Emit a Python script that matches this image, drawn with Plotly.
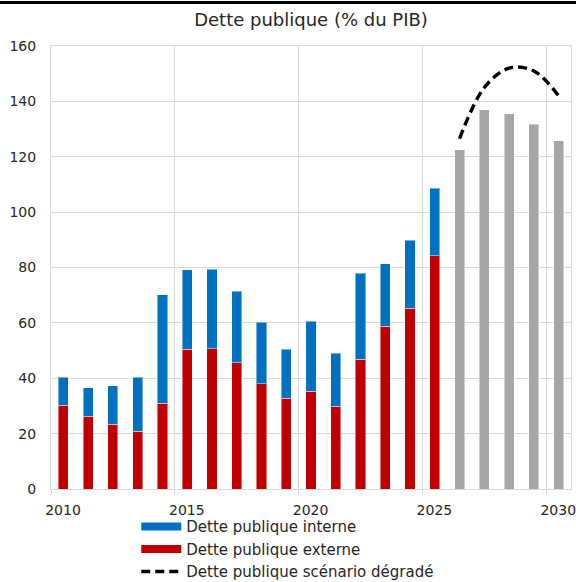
import plotly.graph_objects as go

years_hist = list(range(2010, 2026))
externe = [30.2, 26.2, 23.3, 20.9, 30.9, 50.4, 50.6, 45.6, 38.1, 32.8, 35.3, 29.9, 46.9, 58.7, 65.2, 84.3]
total_hist = [40.4, 36.5, 37.3, 40.3, 70.1, 79.1, 79.3, 71.4, 60.3, 50.4, 60.6, 49.0, 77.9, 81.3, 89.8, 108.6]
interne = [round(t - e, 1) for t, e in zip(total_hist, externe)]

years_proj = list(range(2026, 2031))
projection = [122.5, 137.0, 135.5, 131.8, 125.7]
scenario_degrade = [126.5, 145.0, 152.0, 151.0, 142.0]

tick_years = [2010, 2015, 2020, 2025, 2030]
grid_bounds = [y - 0.5 for y in tick_years]

FONT = "DejaVu Sans"
BLUE = "#0070C0"
RED = "#C00000"
GRAY = "#A6A6A6"
GRID = "#D9D9D9"
DASH = "9px,5px"
edge = dict(color="rgba(255,255,255,0.45)", width=1)

fig = go.Figure()
fig.add_trace(go.Bar(x=years_hist, y=externe, marker=dict(color=RED, line=edge),
                     width=0.41, showlegend=False, name="Dette publique externe"))
fig.add_trace(go.Bar(x=years_hist, y=interne, marker=dict(color=BLUE, line=edge),
                     width=0.41, showlegend=False, name="Dette publique interne"))
fig.add_trace(go.Bar(x=years_proj, y=projection, marker=dict(color=GRAY, line=edge),
                     width=0.41, showlegend=False, name="Projection"))
fig.add_trace(go.Scatter(x=years_proj, y=scenario_degrade, mode="lines",
                         line=dict(color="black", width=3.4, dash=DASH, shape="spline"),
                         showlegend=False))

# legend entries
fig.add_trace(go.Scatter(x=[None], y=[None], mode="lines", line=dict(color=BLUE, width=8),
                         name="Dette publique interne"))
fig.add_trace(go.Scatter(x=[None], y=[None], mode="lines", line=dict(color=RED, width=8),
                         name="Dette publique externe"))
fig.add_trace(go.Scatter(x=[None], y=[None], mode="lines",
                         line=dict(color="black", width=3.4, dash=DASH),
                         name="Dette publique scénario dégradé"))

fig.update_layout(
    width=576, height=582,
    barmode="stack",
    plot_bgcolor="white", paper_bgcolor="white",
    font=dict(family=FONT, size=14, color="#262626"),
    margin=dict(l=51, r=5, t=46, b=93, autoexpand=False),
    title=dict(text="Dette publique (% du PIB)", x=0.5, xref="paper", xanchor="center",
               y=0.966, yanchor="middle", font=dict(family=FONT, size=18, color="#262626")),
    xaxis=dict(range=[2009.5, 2030.5], tickmode="array", tickvals=grid_bounds,
               ticktext=[str(y) for y in tick_years], showgrid=True, gridcolor=GRID,
               gridwidth=1, ticks="outside", ticklen=5, tickcolor=GRID,
               ticklabelshift=12, ticklabelstandoff=3,
               showline=True, linecolor=GRID, linewidth=1, mirror=True, zeroline=False,
               automargin=False, ticklabeloverflow="allow",
               tickfont=dict(size=14, color="#262626")),
    yaxis=dict(range=[0, 160], tickvals=list(range(0, 161, 20)), showgrid=True,
               gridcolor=GRID, gridwidth=1, showline=True, linecolor=GRID, mirror=True,
               zeroline=False, ticks="", tickfont=dict(size=14, color="#262626"),
               automargin=False, ticklabelstandoff=11),
    legend=dict(x=0.164, xanchor="left", y=-0.048, yanchor="top", orientation="v",
                traceorder="normal",
                font=dict(size=15, color="#262626"), itemwidth=40,
                bgcolor="rgba(0,0,0,0)", tracegroupgap=0),
    shapes=[dict(type="line", xref="paper", yref="paper", x0=-0.1, x1=1.02,
                 y0=1.098, y1=1.098, line=dict(color="black", width=3))],
)

fig.write_html("out.html", config={"displayModeBar": False},
               post_script="document.body.style.margin='0';")
